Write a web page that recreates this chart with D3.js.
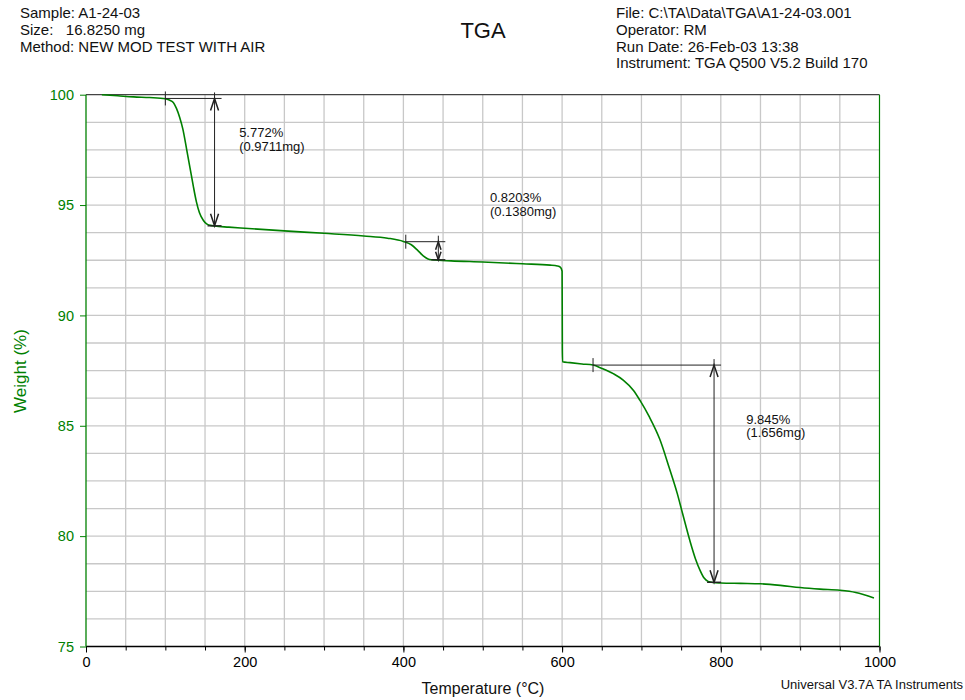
<!DOCTYPE html>
<html>
<head>
<meta charset="utf-8">
<script src="https://cdn.jsdelivr.net/npm/d3@7"></script>
<style>
  body { margin: 0; background: #fff; }
  text { font-family: "Liberation Sans", Arial, sans-serif; }
</style>
</head>
<body>
<svg id="chart" width="965" height="700"></svg>
<script>
// TGA curve: temperature (°C) and weight (%)
var temps = [20, 40, 60, 80, 100, 105, 110, 114, 118, 122, 127, 131, 135, 139, 143, 148, 152, 157, 162,
    180, 200, 250, 300, 350, 380, 400, 410, 418, 425, 431, 436, 440, 460, 500, 550, 585, 594, 598, 600,
    600.3, 600.6, 610, 625, 639, 650, 665, 677, 690, 698, 710, 723, 735, 745, 752, 761, 768, 774, 779,
    784, 790, 800, 825, 850, 875, 900, 925, 950, 970, 993];
var weights = [100.0, 99.95, 99.9, 99.87, 99.82, 99.76, 99.65, 99.38, 98.98, 98.45, 97.49, 96.7, 95.9, 95.17,
    94.65, 94.3, 94.15, 94.08, 94.05, 94.0, 93.95, 93.83, 93.72, 93.6, 93.5, 93.35, 93.2, 92.95, 92.7,
    92.56, 92.52, 92.51, 92.47, 92.42, 92.34, 92.28, 92.24, 92.18, 92.0, 88.6, 87.9, 87.86, 87.8, 87.75,
    87.6, 87.35, 87.07, 86.6, 86.16, 85.4, 84.4, 83.1, 81.95, 81.0, 79.8, 78.98, 78.44, 78.1, 77.95,
    77.9, 77.88, 77.86, 77.84, 77.77, 77.67, 77.6, 77.55, 77.45, 77.2];

var xTicks = [0, 200, 400, 600, 800, 1000];
var yTicks = [75, 80, 85, 90, 95, 100];

// weight-loss step annotations
var stepStartT = [100, 403, 639];
var stepArrowT = [162, 444, 791.5];
var stepTopW = [99.83, 93.34, 87.75];
var stepBottomW = [94.06, 92.52, 77.91];
var stepPct = ["5.772%", "0.8203%", "9.845%"];
var stepMg = ["(0.9711mg)", "(0.1380mg)", "(1.656mg)"];
var stepLabelT = [193, 509, 832];
var stepLabelW = [98.08, 95.13, 85.1];

var headerLeft = ["Sample: A1-24-03", "Size:   16.8250 mg", "Method: NEW MOD TEST WITH AIR"];
var headerRight = ["File: C:\\TA\\Data\\TGA\\A1-24-03.001", "Operator: RM", "Run Date: 26-Feb-03 13:38",
    "Instrument: TGA Q500 V5.2 Build 170"];

var green = "#008000";
var svg = d3.select("#chart");
var plotLeft = 86, plotRight = 879.5, plotTop = 94.7, plotBottom = 646.5;

var x = d3.scaleLinear().domain([0, 1000]).range([plotLeft, plotRight]);
var y = d3.scaleLinear().domain([75, 100]).range([plotBottom, plotTop]);

// grid
svg.append("g").selectAll("line")
    .data(d3.range(50, 1000, 50))
    .enter().append("line")
    .attr("x1", function (d) { return x(d); })
    .attr("x2", function (d) { return x(d); })
    .attr("y1", plotTop).attr("y2", plotBottom)
    .style("stroke", "#c8c8c8").style("stroke-width", 1.3);
svg.append("g").selectAll("line")
    .data(d3.range(76.25, 100, 1.25))
    .enter().append("line")
    .attr("y1", function (d) { return y(d); })
    .attr("y2", function (d) { return y(d); })
    .attr("x1", plotLeft).attr("x2", plotRight)
    .style("stroke", "#c8c8c8").style("stroke-width", 1.3);

// frame
svg.append("line").attr("x1", plotLeft).attr("x2", plotRight).attr("y1", plotTop).attr("y2", plotTop)
    .style("stroke", "#444").style("stroke-width", 1.2);
svg.append("line").attr("x1", plotRight).attr("x2", plotRight).attr("y1", plotTop).attr("y2", plotBottom)
    .style("stroke", green).style("stroke-width", 1.2);

// x axis
var xAxisMinor = d3.axisBottom(x).tickValues(d3.range(0, 1001, 50)).tickSize(4).tickFormat("");
svg.append("g").attr("transform", "translate(0," + plotBottom + ")").call(xAxisMinor)
    .call(function (g) { g.select(".domain").remove(); })
    .selectAll("line").style("stroke", "#000");
var xAxis = d3.axisBottom(x).tickValues(xTicks).tickSize(6).tickPadding(4).tickFormat(d3.format("d"));
var gx = svg.append("g").attr("transform", "translate(0," + plotBottom + ")").call(xAxis);
gx.select(".domain").attr("d", "M" + plotLeft + ",0H" + plotRight).style("stroke", "#000").style("stroke-width", 1.3);
gx.selectAll("line").style("stroke", "#000");
gx.selectAll("text").style("font-size", "14.5px").style("fill", "#000")
    .style("font-family", "Liberation Sans, Arial, sans-serif");

// y axis
var yAxis = d3.axisLeft(y).tickValues(yTicks).tickSize(6).tickPadding(6).tickFormat(d3.format("d"));
var gy = svg.append("g").attr("transform", "translate(" + plotLeft + ",0)").call(yAxis);
gy.select(".domain").attr("d", "M0," + plotTop + "V" + plotBottom).style("stroke", green).style("stroke-width", 1.3);
gy.selectAll("line").style("stroke", green);
gy.selectAll("text").style("font-size", "14.5px").style("fill", green)
    .style("font-family", "Liberation Sans, Arial, sans-serif");

// curve
var line = d3.line()
    .x(function (d, i) { return x(temps[i]); })
    .y(function (d) { return y(d); })
    .curve(d3.curveMonotoneX);
svg.append("path")
    .datum(weights)
    .attr("d", line)
    .style("fill", "none")
    .style("stroke", green)
    .style("stroke-width", 1.6);

// step annotations
var ann = svg.append("g").style("stroke", "#222").style("fill", "none");
stepStartT.forEach(function (t0, i) {
    var x0 = x(t0), xa = x(stepArrowT[i]), yt = y(stepTopW[i]), yb = y(stepBottomW[i]);
    var ah = Math.min(12, (yb - yt) * 0.45), aw = ah / 3;
    ann.append("line").attr("x1", x0).attr("x2", x0).attr("y1", yt - 7).attr("y2", yt + 7);
    ann.append("line").attr("x1", x0).attr("x2", xa + 7).attr("y1", yt).attr("y2", yt);
    ann.append("line").attr("x1", xa).attr("x2", xa).attr("y1", yt - 6).attr("y2", yb);
    ann.append("line").attr("x1", xa - 7).attr("x2", xa + 7).attr("y1", yb).attr("y2", yb)
        .style("stroke-width", 1.4);
    ann.append("path").attr("d", "M" + (xa - aw) + "," + (yt + ah) + "L" + xa + "," + yt + "L" + (xa + aw) + "," + (yt + ah))
        .style("stroke-width", 1.5);
    ann.append("path").attr("d", "M" + (xa - aw) + "," + (yb - ah) + "L" + xa + "," + yb + "L" + (xa + aw) + "," + (yb - ah))
        .style("stroke-width", 1.5);
    var lbl = svg.append("text")
        .attr("x", x(stepLabelT[i]))
        .attr("y", y(stepLabelW[i]))
        .style("font-size", "13px")
        .style("fill", "#111");
    lbl.append("tspan").text(stepPct[i]);
    lbl.append("tspan").attr("x", x(stepLabelT[i])).attr("dy", 13.5).text(stepMg[i]);
});

// header text
svg.selectAll(".hl").data(headerLeft).enter().append("text")
    .attr("x", 20).attr("y", function (d, i) { return 18.3 + i * 16.7; })
    .style("font-size", "15px").style("fill", "#111")
    .style("white-space", "pre").attr("xml:space", "preserve")
    .text(function (d) { return d; });
svg.selectAll(".hr").data(headerRight).enter().append("text")
    .attr("x", 616).attr("y", function (d, i) { return 18.3 + i * 16.7; })
    .style("font-size", "15px").style("fill", "#111")
    .text(function (d) { return d; });
svg.append("text").attr("x", 483).attr("y", 38).attr("text-anchor", "middle")
    .style("font-size", "22px").style("fill", "#111").text("TGA");

// axis titles
svg.append("text").attr("x", 483).attr("y", 694).attr("text-anchor", "middle")
    .style("font-size", "16px").style("fill", "#111").text("Temperature (°C)");
svg.append("text").attr("transform", "translate(26,371) rotate(-90)").attr("text-anchor", "middle")
    .style("font-size", "17px").style("fill", green).text("Weight (%)");
svg.append("text").attr("x", 963).attr("y", 689).attr("text-anchor", "end")
    .style("font-size", "13px").style("fill", "#111").text("Universal V3.7A TA Instruments");
</script>
</body>
</html>
